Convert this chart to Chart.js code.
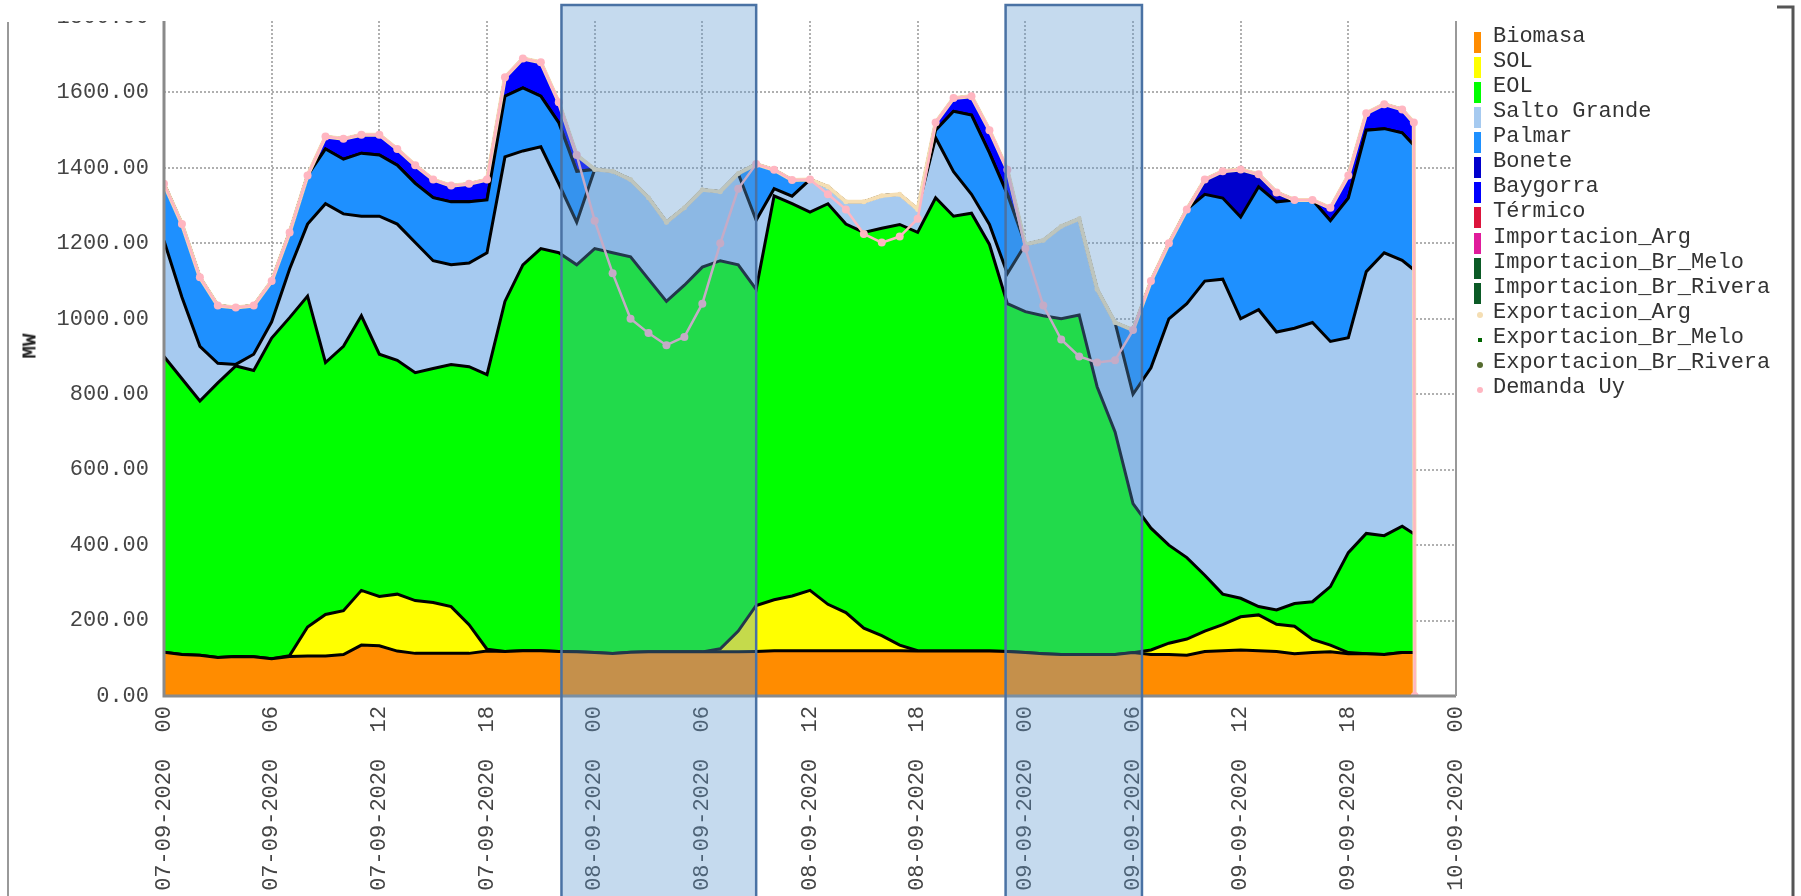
<!DOCTYPE html>
<html>
<head>
<meta charset="utf-8">
<title>Generación por fuente - MW</title>
<script src="https://cdn.jsdelivr.net/npm/chart.js@4.4.1/dist/chart.umd.min.js"></script>
<style>
  html, body { margin: 0; padding: 0; background: #fff; }
  #wrap { position: relative; width: 1801px; height: 896px; overflow: hidden; }
  #chart { position: absolute; left: 0; top: 0; }
  #ytitle { position: absolute; left: 30px; top: 346px; transform: translate(-50%, -50%) rotate(-90deg);
            font: bold 21px 'Liberation Mono', monospace; color: #222; line-height: 1; }
  #legend { position: absolute; left: 1474px; top: 24px; font: 22px 'Liberation Mono', monospace; color: #333; }
  .row { position: relative; height: 25.07px; line-height: 25px; padding-left: 19px; white-space: pre; }
  .bar { position: absolute; left: 0; top: 8px; width: 7px; height: 21px; }
  .dot { position: absolute; left: 3px; top: 12px; width: 6px; height: 6px; border-radius: 50%; }
  .sq { position: absolute; left: 4px; top: 13px; width: 4px; height: 4px; }
</style>
</head>
<body>
<div id="wrap">
  <canvas id="chart" width="1801" height="896"></canvas>
  <div id="ytitle">MW</div>
  <div id="legend"></div>
</div>
<script>
// hours since 07-09-2020 00:00
const hours = [0, 1, 2, 3, 4, 5, 6, 7, 8, 9, 10, 11, 12, 13, 14, 15, 16, 17, 18, 19, 20, 21, 22, 23,
    24, 25, 26, 27, 28, 29, 30, 31, 32, 33, 34, 35, 36, 37, 38, 39, 40, 41, 42, 43, 44, 45, 46, 47,
    48, 49, 50, 51, 52, 53, 54, 55, 56, 57, 58, 59, 60, 61, 62, 63, 64, 65, 66, 67, 68, 69, 69.65, 69.7];

const tickLabels = ['07-09-2020  00', '07-09-2020  06', '07-09-2020  12', '07-09-2020  18',
    '08-09-2020  00', '08-09-2020  06', '08-09-2020  12', '08-09-2020  18',
    '09-09-2020  00', '09-09-2020  06', '09-09-2020  12', '09-09-2020  18', '10-09-2020  00'];

// MW per source
const biomasa = [116, 110, 108, 102, 105, 104, 99, 105, 106, 106, 110, 135, 133, 119, 113, 113, 113, 113, 119, 118, 120, 120, 118, 117,
    115, 113, 116, 117, 117, 117, 117, 117, 117, 118, 120, 120, 120, 120, 120, 120, 120, 120, 119, 119, 119, 119, 119, 118,
    115, 112, 110, 110, 110, 110, 115, 110, 110, 108, 118, 120, 122, 120, 118, 112, 115, 117, 112, 112, 110, 115, 115, null];
const sol = [0, 0, 0, 0, 0, 0, 0, 2, 77, 110, 116, 145, 131, 151, 140, 135, 124, 76, 5, 0, 0, 0, 0, 0,
    0, 0, 0, 0, 0, 0, 0, 8, 55, 122, 135, 145, 160, 123, 101, 60, 40, 15, 1, 0, 0, 0, 0, 0,
    0, 0, 0, 0, 0, 0, 0, 12, 30, 43, 54, 69, 88, 95, 72, 73, 35, 18, 3, 0, 0, 0, 0, null];
const eol = [784, 731, 674, 728, 770, 759, 850, 896, 877, 668, 701, 728, 642, 620, 604, 620, 642, 684, 728, 928, 1023, 1066, 1057, 1026,
    1071, 1062, 1048, 988, 929, 972, 1020, 1029, 971, 838, 1071, 1040, 1003, 1062, 1030, 1049, 1080, 1115, 1109, 1202, 1153, 1161, 1078, 922,
    904, 896, 890, 900, 710, 590, 395, 323, 260, 216, 148, 81, 49, 22, 38, 60, 100, 155, 265, 319, 315, 335, 315, null];
const saltoGrande = [307, 216, 145, 52, 4, 43, 43, 129, 191, 421, 351, 264, 366, 361, 345, 286, 264, 275, 323, 383, 302, 270, 183, 113,
    210, 216, 205, 216, 210, 205, 205, 183, 242, 183, 19, 20, 86, 45, 59, 81, 86, 80, 61, 159, 118, 50, 53, 80,
    178, 200, 245, 255, 258, 290, 290, 425, 600, 673, 780, 835, 741, 787, 737, 730, 740, 650, 570, 694, 750, 705, 700, null];
const palmar = [151, 194, 183, 153, 151, 129, 108, 97, 129, 145, 145, 167, 162, 156, 157, 167, 167, 162, 140, 161, 167, 134, 162, 135,
    0, 0, 0, 0, 0, 0, 0, 0, 0, 149, 50, 43, 0, 0, 0, 0, 0, 0, 0, 20, 160, 210, 190, 210,
    0, 0, 0, 0, 0, 0, 170, 230, 200, 250, 230, 215, 270, 326, 345, 340, 325, 320, 370, 375, 329, 338, 330, null];
const bonete = [0, 0, 0, 0, 0, 0, 0, 0, 0, 0, 0, 0, 0, 0, 0, 0, 0, 0, 0, 0, 0, 0, 0, 0,
    0, 0, 0, 0, 0, 0, 0, 0, 0, 0, 0, 0, 0, 0, 0, 0, 0, 0, 0, 0, 0, 0, 0, 0,
    0, 0, 0, 0, 0, 0, 0, 0, 0, 0, 39, 71, 126, 33, 25, 0, 0, 0, 0, 0, 0, 0, 0, null];
const baygorra = [0, 0, 0, 0, 0, 0, 0, 0, 0, 33, 54, 49, 54, 43, 48, 48, 43, 48, 54, 50, 78, 90, 54, 43,
    0, 0, 0, 0, 0, 0, 0, 0, 0, 0, 0, 0, 0, 0, 0, 0, 0, 0, 0, 20, 35, 50, 60, 65,
    0, 0, 0, 0, 0, 0, 0, 0, 0, 0, 0, 0, 0, 0, 0, 0, 0, 34, 60, 45, 65, 62, 60, null];
const exportacionArg = [0, 0, 0, 0, 0, 0, 0, 0, 0, 0, 0, 0, 0, 0, 0, 0, 0, 0, 0, 0, 0, 0, 0, 0,
    136, 270, 369, 359, 326, 342, 302, 137, 40, 0, 0, 0, 0, 20, 20, 85, 124, 112, 25, 0, 0, 0, 0, 0,
    11, 173, 300, 365, 194, 100, 0, 0, 0, 0, 0, 0, 0, 0, 0, 0, 0, 0, 0, 0, 0, 0, 0, 0];
const demanda = [1358, 1251, 1110, 1035, 1030, 1035, 1100, 1229, 1380, 1483, 1477, 1488, 1488, 1450, 1407, 1369, 1353, 1358, 1369, 1640, 1690, 1680, 1574, 1434,
    1260, 1121, 1000, 962, 930, 952, 1040, 1200, 1345, 1410, 1395, 1368, 1369, 1330, 1290, 1225, 1202, 1218, 1265, 1520, 1585, 1590, 1500, 1395,
    1186, 1035, 945, 900, 884, 890, 970, 1100, 1200, 1290, 1369, 1391, 1396, 1383, 1335, 1315, 1315, 1294, 1380, 1545, 1569, 1555, 1520, 0];

// highlighted periods (hours)
const windows = [[22.15, 33.0], [46.9, 54.5]];

const areaNames = ['Biomasa', 'SOL', 'EOL', 'Salto Grande', 'Palmar', 'Bonete', 'Baygorra', 'Térmico',
    'Importacion_Arg', 'Importacion_Br_Melo', 'Importacion_Br_Rivera'];
const areaColors = ['#FF8C00', '#FFFF00', '#00FF00', '#A6CAF0', '#1E90FF', '#0000CD', '#0000FF', '#DC143C',
    '#E01B9B', '#0B5A26', '#0B5A26'];
const areaValues = [biomasa, sol, eol, saltoGrande, palmar, bonete, baygorra, [], [], [], []];

const pointNames = ['Exportacion_Arg', 'Exportacion_Br_Melo', 'Exportacion_Br_Rivera', 'Demanda Uy'];
const pointColors = ['#F5DEB3', '#006400', '#556B2F', '#FFB6C1'];

const toXY = (vals) => vals.map((v, i) => ({ x: hours[i], y: v }));

document.addEventListener('DOMContentLoaded', () => {
    const monoFont = { family: 'Liberation Mono', size: 22 };

    // Legend
    const legend = document.getElementById('legend');
    areaNames.forEach((name, i) => {
        const row = document.createElement('div');
        row.className = 'row';
        row.innerHTML = `<span class="bar" style="background:${areaColors[i]}"></span>${name}`;
        legend.appendChild(row);
    });
    pointNames.forEach((name, i) => {
        const row = document.createElement('div');
        row.className = 'row';
        const cls = i === 1 ? 'sq' : 'dot';
        row.innerHTML = `<span class="${cls}" style="background:${pointColors[i]}"></span>${name}`;
        legend.appendChild(row);
    });

    const datasets = areaNames.map((name, i) => ({
        label: name,
        data: toXY(areaValues[i]),
        stack: 'gen',
        backgroundColor: areaColors[i],
        borderColor: '#000',
        borderWidth: 3,
        fill: i === 0 ? 'origin' : '-1',
        pointRadius: 0
    }));

    datasets.push({
        label: 'Exportacion_Arg',
        data: toXY(exportacionArg),
        stack: 'dem',
        order: -1,
        borderColor: pointColors[0],
        backgroundColor: pointColors[0],
        borderWidth: 4,
        pointRadius: 2.5,
        pointBorderWidth: 0,
        fill: false
    });
    datasets.push({ label: 'Exportacion_Br_Melo', data: [], stack: 'x1', fill: false, borderColor: pointColors[1] });
    datasets.push({ label: 'Exportacion_Br_Rivera', data: [], stack: 'x2', fill: false, borderColor: pointColors[2] });
    datasets.push({
        label: 'Demanda Uy',
        data: toXY(demanda),
        stack: 'dem',
        order: -2,
        borderColor: pointColors[3],
        backgroundColor: pointColors[3],
        borderWidth: 2.5,
        pointRadius: 4,
        pointBorderWidth: 0,
        fill: false
    });

    // screenshot frame, axis lines and the highlighted periods
    const overlays = {
        id: 'overlays',
        afterDraw(chart) {
            const { ctx, chartArea: a, scales: { x } } = chart;
            ctx.save();
            ctx.fillStyle = '#fff';
            ctx.fillRect(0, 0, 1470, 21);

            ctx.lineWidth = 3;
            ctx.strokeStyle = '#8a8a8a';
            ctx.beginPath();
            ctx.moveTo(a.left, 21);
            ctx.lineTo(a.left, a.bottom);
            ctx.lineTo(a.right, a.bottom);
            ctx.stroke();
            ctx.lineWidth = 2;
            ctx.strokeStyle = '#999';
            ctx.beginPath();
            ctx.moveTo(a.right, 21);
            ctx.lineTo(a.right, a.bottom);
            ctx.stroke();

            ctx.strokeStyle = '#999';
            ctx.beginPath();
            ctx.moveTo(8, 22);
            ctx.lineTo(8, 896);
            ctx.stroke();
            ctx.lineWidth = 3;
            ctx.strokeStyle = '#555';
            ctx.beginPath();
            ctx.moveTo(1777, 7);
            ctx.lineTo(1793, 7);
            ctx.lineTo(1793, 896);
            ctx.stroke();

            windows.forEach(([from, to]) => {
                const x1 = x.getPixelForValue(from);
                const x2 = x.getPixelForValue(to);
                ctx.fillStyle = 'rgba(94, 152, 208, 0.36)';
                ctx.fillRect(x1, 5, x2 - x1, 900);
                ctx.lineWidth = 2.5;
                ctx.strokeStyle = '#4a72a4';
                ctx.strokeRect(x1, 5, x2 - x1, 900);
            });
            ctx.restore();
        }
    };

    const gridStyle = { color: 'rgba(150, 150, 150, 0.75)', lineWidth: 2, drawTicks: false };

    new Chart(document.getElementById('chart'), {
        type: 'line',
        data: { datasets },
        options: {
            responsive: false,
            animation: false,
            devicePixelRatio: 1,
            layout: { padding: { top: 17, right: 345, bottom: 0, left: 0 } },
            elements: { line: { tension: 0 } },
            plugins: { legend: { display: false }, tooltip: { enabled: false } },
            scales: {
                x: {
                    type: 'linear',
                    min: 0,
                    max: 72,
                    z: 1,
                    afterFit: (s) => { s.height = 200; },
                    grid: gridStyle,
                    border: { display: false, dash: [2, 2] },
                    ticks: {
                        stepSize: 6,
                        autoSkip: false,
                        minRotation: 90,
                        maxRotation: 90,
                        padding: 10,
                        color: '#444',
                        font: monoFont,
                        callback: (v) => tickLabels[Math.round(v / 6)]
                    }
                },
                y: {
                    stacked: true,
                    min: 0,
                    max: 1800,
                    z: 1,
                    afterFit: (s) => { s.width = 164; s.paddingTop = 0; s.paddingBottom = 0; },
                    grid: gridStyle,
                    border: { display: false, dash: [2, 2] },
                    ticks: {
                        stepSize: 200,
                        padding: 15,
                        color: '#444',
                        font: monoFont,
                        callback: (v) => v.toFixed(2)
                    }
                }
            }
        },
        plugins: [overlays]
    });
});
</script>
</body>
</html>
